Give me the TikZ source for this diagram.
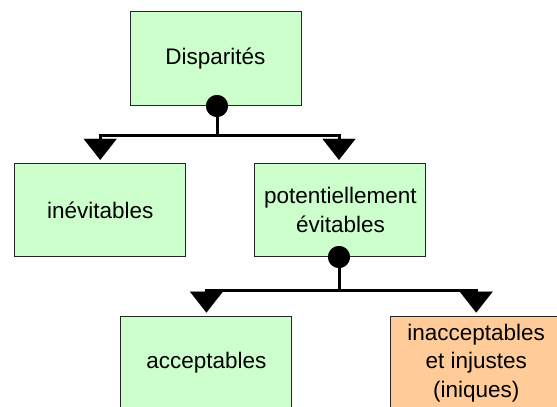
\documentclass[tikz,border=0pt]{standalone}
\usepackage{fontspec}
\setmainfont{Liberation Sans}
\usetikzlibrary{arrows.meta}
\definecolor{boxgreen}{HTML}{CCFFCC}
\definecolor{boxorange}{HTML}{FFCC99}
\begin{document}
\begin{tikzpicture}[x=1pt,y=-1pt,
  box/.style={draw=black!85, line width=1pt, fill=boxgreen, minimum width=171pt, minimum height=93.3pt,
    inner sep=0pt, align=center, font=\fontsize{22.5}{28.5}\selectfont},
  redbox/.style={box, fill=boxorange},
  joint/.style={circle, fill=black, minimum size=22pt, inner sep=0pt},
  conn/.style={line width=3pt, line join=miter, line cap=butt},
  arr/.style={conn, -{Triangle[width=33pt,length=21pt,line width=0.01pt]}, shorten >=3pt}]
\useasboundingbox (0,0) rectangle (557,407);
\clip (0,0) rectangle (557,407);
\node[box] (D) at (215.5,58.4) {Disparités};
\node[box] (I) at (100.2,210) {inévitables};
\node[box] (P) at (340.4,210) {potentiellement\\évitables};
\node[box] (A) at (206.4,362.7) {acceptables};
\node[redbox] (U) at (476.2,362.7) {inacceptables\\et injustes\\(iniques)};
\node[joint] (d1) at (217,106) {};
\node[joint] (d2) at (339,257) {};
\coordinate (j1) at (217,135);
\coordinate (j2) at (339,290);
\draw[conn] (d1.center) -- (j1);
\draw[arr] (j1) -| (I.north);
\draw[arr] (j1) -| ([xshift=-1.4pt]P.north);
\draw[conn] (d2.center) -- (j2);
\draw[arr] (j2) -| (A.north);
\draw[arr] (j2) -| (U.north);
\node[joint] at (d1) {};
\node[joint] at (d2) {};
\end{tikzpicture}
\end{document}
